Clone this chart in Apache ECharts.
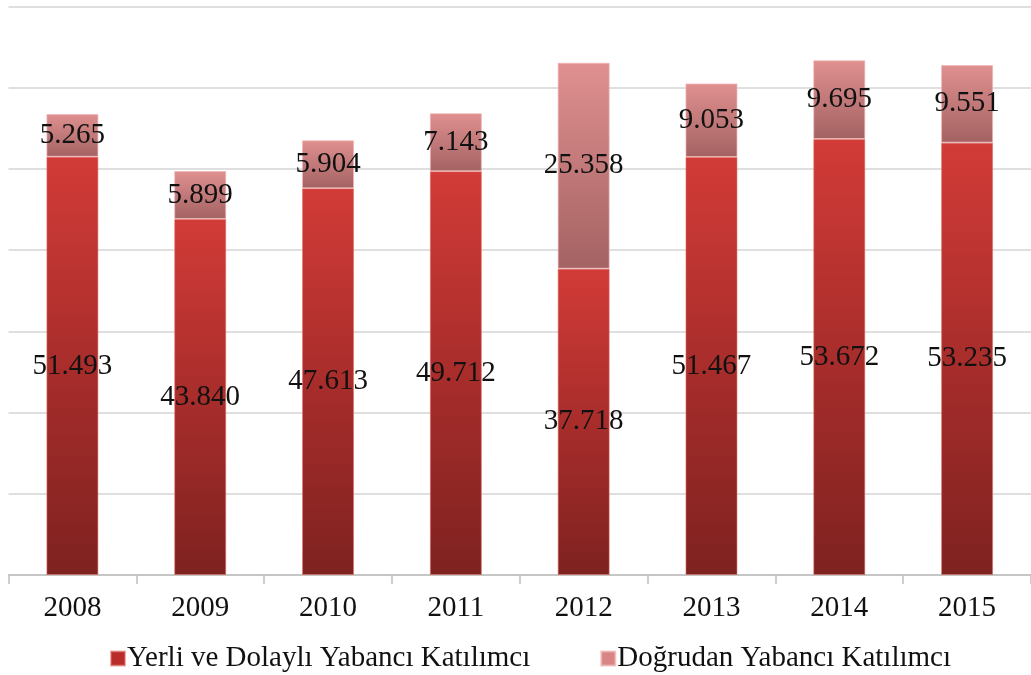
<!DOCTYPE html>
<html>
<head>
<meta charset="utf-8">
<script src="https://cdn.jsdelivr.net/npm/echarts@6/dist/echarts.min.js"></script>
<style>html,body{margin:0;padding:0;background:#fff;}#c{width:1031px;height:675px;}</style>
</head>
<body>
<div id="c"></div>
<script>
const years = ['2008','2009','2010','2011','2012','2013','2014','2015'];
const yerli = [51.493, 43.840, 47.613, 49.712, 37.718, 51.467, 53.672, 53.235];
const dogrudan = [5.265, 5.899, 5.904, 7.143, 25.358, 9.053, 9.695, 9.551];
const seriesNames = ['Yerli ve Dolaylı Yabancı Katılımcı', 'Doğrudan Yabancı Katılımcı'];

const fmt = v => v.toFixed(3);
const chart = echarts.init(document.getElementById('c'), null, {renderer: 'canvas'});
const labelStyle = {
  show: true, position: 'inside', color: '#111', fontFamily: 'Liberation Serif',
  fontSize: 29, formatter: p => fmt(p.value)
};
chart.setOption({
  animation: false,
  backgroundColor: '#fff',
  grid: {left: 8.5, top: 6.5, width: 1028, height: 568.5, containLabel: false},
  legend: {
    top: 639, left: 105, itemWidth: 14, itemHeight: 14, itemGap: 70, icon: 'rect',
    textStyle: {fontFamily: 'Liberation Serif', fontSize: 29, color: '#111', padding: [0,0,0,-3]},
    data: [
      {name: seriesNames[0], itemStyle: {color: '#b82c29'}},
      {name: seriesNames[1], itemStyle: {color: '#d98585'}}
    ]
  },
  xAxis: {
    type: 'category', data: years, boundaryGap: true,
    axisLine: {lineStyle: {color: '#bfbfbf', width: 1.5}},
    axisTick: {show: true, length: 9, lineStyle: {color: '#bfbfbf', width: 1.5}},
    axisLabel: {fontFamily: 'Liberation Serif', fontSize: 29, color: '#111', margin: 19}
  },
  yAxis: {
    type: 'value', min: 0, max: 70, interval: 10,
    axisLine: {show: false}, axisTick: {show: false}, axisLabel: {show: false},
    splitLine: {lineStyle: {color: '#d4d4d4', width: 1.5}}
  },
  series: [
    {
      name: seriesNames[0], type: 'bar', stack: 'a', data: yerli, barWidth: 52,
      itemStyle: {
        color: new echarts.graphic.LinearGradient(0, 0, 0, 1, [
          {offset: 0, color: '#d23b37'}, {offset: 0.5, color: '#a82d2b'}, {offset: 1, color: '#7e2220'}
        ]),
        borderColor: 'rgba(225,110,100,0.55)', borderWidth: 1
      },
      label: labelStyle
    },
    {
      name: seriesNames[1], type: 'bar', stack: 'a', data: dogrudan, barWidth: 52,
      itemStyle: {
        color: new echarts.graphic.LinearGradient(0, 0, 0, 1, [
          {offset: 0, color: '#e09090'}, {offset: 1, color: '#a46262'}
        ]),
        borderColor: 'rgba(240,180,180,0.7)', borderWidth: 1
      },
      label: labelStyle
    }
  ]
});
</script>
</body>
</html>
